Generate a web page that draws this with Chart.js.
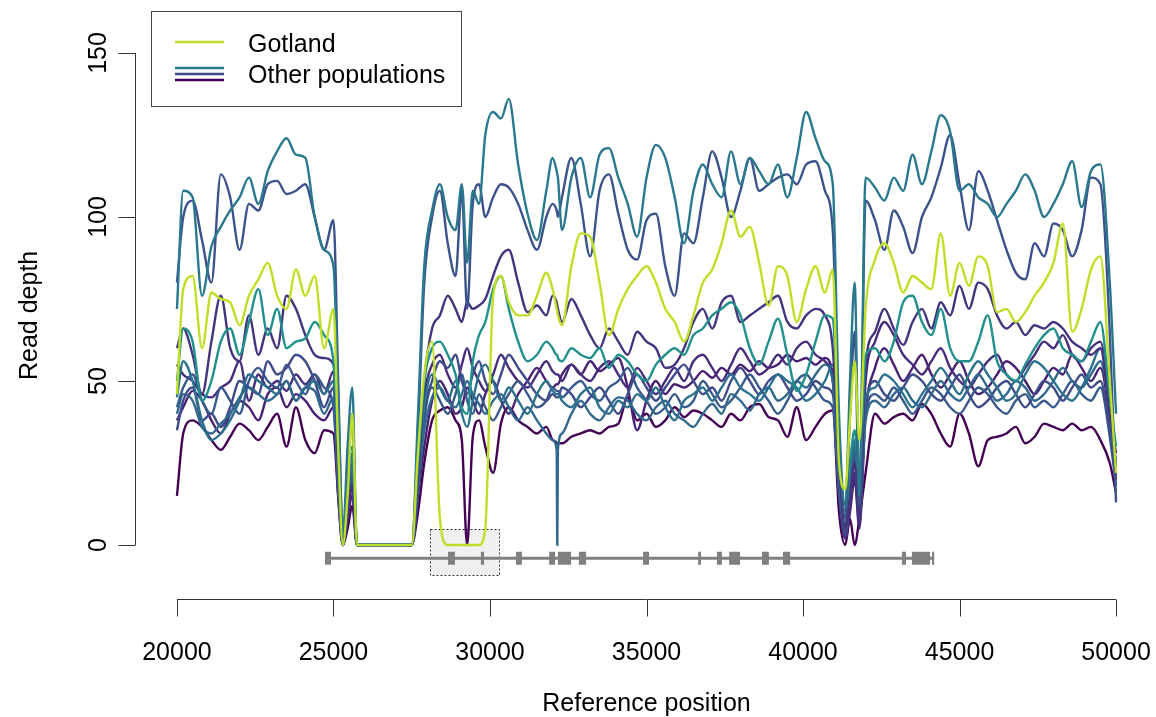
<!DOCTYPE html>
<html>
<head>
<meta charset="utf-8">
<script src="https://cdn.jsdelivr.net/npm/chart.js@4/dist/chart.umd.min.js"></script>
<style>
  html, body { margin: 0; padding: 0; background: #fff; }
  canvas { display: block; }
</style>
</head>
<body>
<canvas id="depth" width="1156" height="717"></canvas>
<script>
// Read depth along the reference — Gotland vs. the other populations, R base-graphics look.

// ── Data ──────────────────────────────────────────────────────────────────────
// rows: 20000–25150 | gap 1 | 27900–29850 | 30100–31800 | 32000–32300 | 32600–35300
//       35600–38300 | 38600–40950 | gap 2 | 42000–44700 | 45000–47700 | 48000–50000
const POS = [
  20000, 20200, 20500, 20800, 21100, 21400, 21700, 22000, 22300, 22600, 22900, 23200, 23500, 23800, 24100, 24400, 24700, 25000, 25150,
  25300, 25450, 25600, 25750, 27500, 27700,
  27900, 28150, 28400, 28650, 28900, 29100, 29270, 29450, 29650, 29850,
  30100, 30350, 30600, 30900, 31200, 31500, 31800,
  32000, 32130, 32150, 32170, 32300,
  32600, 32900, 33200, 33500, 33800, 34100, 34400, 34700, 35000, 35300,
  35600, 35900, 36200, 36500, 36800, 37100, 37400, 37700, 38000, 38300,
  38600, 38900, 39200, 39500, 39800, 40100, 40400, 40700, 40950,
  41150, 41350, 41500, 41650, 41800,
  42000, 42300, 42600, 42900, 43200, 43500, 43800, 44100, 44400, 44700,
  45000, 45300, 45600, 45900, 46200, 46500, 46800, 47100, 47400, 47700,
  48000, 48300, 48600, 48900, 49200, 49500, 49800, 50000,
];

const GOTLAND = [
  46, 78, 82, 60, 77, 75, 74, 67, 76, 81, 86, 76, 72, 84, 76, 82, 60, 72, 30,
  0, 15, 40, 0, 0, 28,
  52, 62, 8, 0, 0, 0, 0, 0, 0, 5,
  76, 82, 74, 70, 70, 76, 83,
  78, 72, 71, 70, 67,
  85, 95, 94, 80, 64, 72, 78, 82, 85, 80,
  72, 68, 62, 70, 80, 84, 92, 102, 94, 97,
  86, 73, 85, 82, 68, 78, 85, 77, 84,
  25, 17, 38, 56, 32,
  72, 87, 92, 86, 77, 82, 80, 78, 95, 76,
  86, 79, 88, 85, 71, 72, 68, 71, 76, 80,
  86, 98, 65, 72, 84, 88, 50, 22,
];

const TEAL_HIGH = [
  72, 108, 106, 76, 91, 97, 102, 106, 112, 104, 114, 120, 124, 119, 118, 100, 90, 85, 45,
  3, 30, 48, 0, 0, 40,
  85, 102, 110, 100, 96, 110, 86, 108, 104, 125,
  132, 130, 136, 116, 101, 93, 108,
  118, 114, 113, 112, 96,
  112, 118, 106, 119, 121, 112, 104, 94, 112, 122,
  118, 106, 92, 108, 116, 110, 106, 120, 110, 118,
  114, 110, 116, 106, 118, 132, 124, 117, 110,
  40, 12, 50, 80, 15,
  112, 109, 105, 112, 108, 119, 110, 120, 131, 126,
  108, 110, 106, 104, 100, 104, 108, 113, 108, 100,
  104, 110, 117, 103, 114, 116, 80, 40,
];

const BLUE_HIGH = [
  80, 100, 105, 93, 80, 113, 106, 90, 104, 102, 110, 111, 107, 108, 110, 100, 90, 99, 50,
  2, 20, 40, 0, 0, 35,
  80, 100, 108, 92, 82, 108, 72, 104, 110, 100,
  106, 110, 109, 104, 96, 90, 100,
  104, 102, 101, 100, 106,
  118, 104, 88, 108, 113, 101, 90, 87, 99, 101,
  85, 76, 95, 92, 106, 120, 112, 100, 108, 118,
  108, 110, 112, 113, 110, 116, 117, 108, 96,
  35, 8, 40, 65, 12,
  105, 99, 90, 102, 97, 89, 100, 106, 115, 125,
  110, 96, 114, 108, 99, 90, 83, 81, 92, 88,
  98, 96, 88, 96, 112, 110, 65, 13,
];

const TEAL_MID = [
  50, 66, 62, 44, 50, 62, 66, 58, 68, 78, 64, 72, 60, 62, 63, 68, 64, 56, 30,
  0, 22, 30, 0, 0, 25,
  50, 60, 62, 58, 52, 42, 40, 56, 64, 68,
  78, 82, 72, 62, 56, 58, 62,
  60, 58, 58, 57, 56,
  60, 58, 57, 60, 54, 58, 56, 52, 50, 55,
  58, 60, 58, 64, 66, 70, 72, 74, 70, 60,
  55, 62, 69, 58, 47, 52, 62, 70, 69,
  30, 10, 25, 35, 20,
  58, 60, 56, 62, 74, 76, 68, 64, 72, 60,
  56, 56, 62, 70, 56, 52, 50, 55, 60, 64,
  66, 60, 58, 56, 62, 68, 45, 30,
];

const PURPLE_MID = [
  60, 66, 58, 46, 62, 76, 60, 56, 70, 58, 66, 60, 76, 72, 64, 58, 57, 55, 25,
  0, 10, 18, 0, 0, 20,
  50, 66, 70, 76, 72, 68, 74, 72, 73, 75,
  82, 88, 90, 80, 71, 73, 70,
  76, 74, 73, 72, 68,
  75, 70, 64, 60, 66, 62, 58, 65, 62, 60,
  54, 55, 60, 68, 72, 66, 74, 76, 68, 70,
  72, 74, 76, 68, 66, 70, 72, 70, 60,
  25, 5, 15, 25, 8,
  55, 65, 72, 66, 61, 68, 72, 66, 74, 70,
  79, 72, 80, 78, 70, 66, 68, 64, 67, 66,
  68, 66, 62, 60, 58, 60, 40, 28,
];

const PURPLE_LOW = [
  15, 34, 38, 36, 32, 29, 33, 37, 35, 32, 36, 40, 30, 42, 32, 28, 35, 34, 15,
  0, 5, 12, 0, 0, 10,
  25, 38, 41, 42, 38, 32, 0, 33, 38, 30,
  22, 37, 42, 38, 36, 34, 36,
  32, 31, 30, 31, 31,
  33, 34, 35, 34, 36, 37, 45, 38, 40, 36,
  38, 42, 39, 41, 40, 38, 36, 40, 38, 42,
  43, 39, 38, 33, 42, 32, 36, 40, 41,
  10, 0, 8, 0, 8,
  22, 40, 37, 39, 40, 38, 43, 40, 34, 30,
  40, 34, 24, 32, 33, 34, 36, 31, 33, 37,
  36, 35, 37, 35, 36, 32, 25, 16,
];

const PURPLE_B = [
  38, 42, 47, 44, 38, 34, 40, 44, 42, 38, 46, 48, 42, 46, 44, 40, 38, 42, 15,
  0, 8, 15, 0, 0, 15,
  30, 44, 50, 46, 40, 42, 48, 44, 40, 46,
  50, 44, 40, 46, 50, 54, 50,
  48, 49, 49, 49, 52,
  55, 52, 56, 53, 55, 57, 48, 35, 44, 50,
  46, 49, 48, 50, 53, 51, 54, 52, 55, 53,
  56, 54, 55, 58, 56, 57, 55, 57, 52,
  15, 2, 10, 20, 5,
  40, 54, 60, 55, 50, 54, 58, 52, 48, 52,
  56, 50, 46, 48, 52, 56, 54, 50, 46, 50,
  54, 52, 58, 54, 50, 54, 38, 20,
];

const BLUE_SPIKE = [
  40, 46, 44, 36, 34, 37, 40, 45, 48, 46, 44, 46, 50, 44, 48, 47, 40, 45, 20,
  0, 12, 25, 0, 0, 18,
  35, 45, 48, 44, 42, 46, 50, 46, 43, 40,
  44, 46, 42, 38, 42, 38, 34,
  32, 29, 0, 29, 34,
  40, 44, 40, 38, 42, 45, 44, 40, 38, 42,
  44, 40, 38, 36, 40, 43, 40, 46, 44, 41,
  46, 48, 44, 46, 50, 48, 52, 55, 50,
  20, 5, 20, 30, 10,
  38, 44, 42, 46, 48, 44, 42, 46, 50, 46,
  44, 48, 52, 48, 44, 46, 50, 48, 44, 46,
  50, 54, 50, 48, 52, 56, 40, 22,
];

const BLUE_C = [
  35, 44, 48, 38, 40, 36, 42, 50, 48, 46, 56, 52, 54, 58, 56, 50, 42, 48, 18,
  0, 10, 20, 0, 0, 16,
  40, 50, 56, 54, 58, 50, 46, 52, 56, 50,
  46, 52, 58, 54, 50, 46, 44,
  46, 45, 45, 45, 48,
  46, 42, 45, 48, 44, 40, 46, 52, 48, 44,
  48, 52, 55, 50, 46, 48, 44, 50, 54, 50,
  46, 50, 52, 48, 44, 46, 50, 48, 46,
  18, 3, 15, 28, 8,
  42, 50, 46, 44, 48, 52, 50, 46, 44, 48,
  52, 46, 42, 44, 48, 50, 46, 42, 46, 50,
  48, 44, 48, 52, 48, 50, 35, 20,
];

const TEAL_LOW = [
  45, 56, 50, 38, 32, 34, 38, 44, 52, 50, 48, 46, 50, 44, 48, 50, 46, 50, 25,
  0, 15, 28, 0, 0, 20,
  42, 52, 48, 44, 50, 40, 36, 44, 52, 55,
  50, 44, 48, 44, 40, 46, 50,
  47, 46, 46, 46, 44,
  42, 46, 48, 42, 40, 44, 42, 46, 44, 48,
  42, 38, 44, 46, 48, 44, 48, 52, 48, 46,
  44, 48, 52, 50, 48, 44, 46, 50, 55,
  22, 6, 22, 32, 12,
  45, 48, 52, 50, 46, 42, 46, 50, 54, 50,
  46, 52, 56, 52, 48, 44, 46, 52, 56, 54,
  50, 46, 44, 48, 54, 60, 42, 24,
];

const PURPLE_C = [
  55, 52, 50, 46, 45, 48, 50, 56, 44, 52, 48, 50, 47, 52, 49, 52, 46, 53, 20,
  0, 8, 18, 0, 0, 18,
  45, 55, 58, 52, 48, 55, 60, 54, 50, 47,
  52, 58, 54, 50, 48, 52, 56,
  53, 52, 52, 52, 50,
  55, 52, 50, 54, 56, 52, 48, 54, 50, 46,
  50, 54, 50, 56, 58, 54, 50, 55, 60, 56,
  52, 54, 58, 55, 60, 62, 58, 56, 50,
  20, 2, 12, 22, 6,
  50, 62, 68, 64, 58, 55, 52, 56, 60, 54,
  50, 48, 52, 56, 58, 52, 50, 54, 58, 62,
  60, 64, 58, 56, 60, 62, 42, 25,
];

const BLUE_D = [
  42, 48, 52, 44, 40, 48, 44, 40, 50, 54, 50, 48, 55, 50, 46, 52, 48, 42, 18,
  0, 10, 22, 0, 0, 16,
  38, 48, 44, 40, 46, 52, 44, 40, 46, 42,
  38, 42, 46, 50, 46, 42, 44,
  48, 47, 47, 47, 45,
  48, 50, 46, 44, 48, 50, 54, 48, 44, 40,
  42, 46, 42, 44, 50, 46, 42, 44, 48, 52,
  48, 44, 40, 44, 50, 52, 48, 44, 42,
  16, 4, 18, 26, 8,
  40, 46, 44, 48, 44, 40, 44, 48, 46, 42,
  40, 44, 48, 46, 42, 40, 44, 46, 42, 44,
  42, 46, 50, 46, 44, 48, 33, 18,
];

// gene model below the depth track
const GENE_SPAN = [24730, 44190];
const EXON_START = [24730, 28660, 29710, 30830, 31890, 32170, 32840, 34890, 36650, 37250, 37640, 38690, 39360, 43160, 43480, 44120];
const EXON_END   = [24920, 28880, 29810, 31020, 32080, 32590, 33070, 35080, 36740, 37410, 37990, 38910, 39590, 43290, 44060, 44190];
const GENE_Y = -4;

// dotted region of interest
const BOX_X = [28080, 30300];
const BOX_Y = [-9.1, 4.9];

const X_TICKS = [20000, 25000, 30000, 35000, 40000, 45000, 50000];
const Y_TICKS = [0, 50, 100, 150];

// ── Styling ───────────────────────────────────────────────────────────────────
const FONT = '25px "Liberation Sans", Arial, sans-serif';
const GOT_COL = '#BEDF26';
const OTHERS = [
  { data: TEAL_HIGH, col: '#2A788E' },
  { data: BLUE_HIGH, col: '#3B528B' },
  { data: TEAL_MID, col: '#21908C' },
  { data: PURPLE_MID, col: '#46337E' },
  { data: BLUE_SPIKE, col: '#31688E' },
  { data: TEAL_LOW, col: '#2C728E' },
  { data: BLUE_C, col: '#3E4A89' },
  { data: BLUE_D, col: '#38598C' },
  { data: PURPLE_C, col: '#472D7B' },
  { data: PURPLE_B, col: '#482173' },
  { data: PURPLE_LOW, col: '#440154' },
];

const pts = (ys) => ys.map((v, i) => ({ x: POS[i], y: v }));
[GOTLAND, ...OTHERS.map((o) => o.data)].forEach((s) => {
  if (s.length !== POS.length) console.error('length mismatch', s.length, POS.length);
});

const exonPts = [];
EXON_START.forEach((s, i) => {
  exonPts.push({ x: s, y: GENE_Y }, { x: EXON_END[i], y: GENE_Y }, { x: EXON_END[i], y: null });
});

const depthLine = { borderWidth: 2.4, cubicInterpolationMode: 'monotone' };
const datasets = [
  { label: 'Gotland', data: pts(GOTLAND), borderColor: GOT_COL, ...depthLine, order: 0 },
  ...OTHERS.map((o, i) => ({ label: 'pop' + i, data: pts(o.data), borderColor: o.col, ...depthLine, order: i + 1 })),
  { label: 'gene', data: GENE_SPAN.map((x) => ({ x, y: GENE_Y })), borderColor: '#808080', borderWidth: 3, order: 20 },
  { label: 'exons', data: exonPts, borderColor: '#808080', borderWidth: 13, borderCapStyle: 'butt', spanGaps: false, order: 19 },
];

// ── R-style frame: box, axes, legend ──────────────────────────────────────────
const rFrame = {
  id: 'rFrame',
  beforeDatasetsDraw(chart) {
    const { ctx, scales: { x, y } } = chart;
    const x0 = Math.round(x.getPixelForValue(BOX_X[0])) + 0.5;
    const x1 = Math.round(x.getPixelForValue(BOX_X[1])) + 0.5;
    const y0 = Math.round(y.getPixelForValue(BOX_Y[1])) + 0.5;
    const y1 = Math.round(y.getPixelForValue(BOX_Y[0])) + 0.5;
    ctx.save();
    ctx.fillStyle = '#F0F0F0';
    ctx.fillRect(x0, y0, x1 - x0, y1 - y0);
    ctx.setLineDash([2, 2]);
    ctx.strokeStyle = '#333';
    ctx.lineWidth = 1;
    ctx.strokeRect(x0, y0, x1 - x0, y1 - y0);
    ctx.restore();
  },
  afterDraw(chart) {
    const { ctx, chartArea: a, scales: { x, y } } = chart;
    ctx.save();
    ctx.strokeStyle = '#333';
    ctx.fillStyle = '#000';
    ctx.lineWidth = 1;
    ctx.font = FONT;

    // x axis
    const xb = Math.round(a.bottom) + 0.5;
    ctx.beginPath();
    ctx.moveTo(x.getPixelForValue(X_TICKS[0]), xb);
    ctx.lineTo(x.getPixelForValue(X_TICKS[X_TICKS.length - 1]), xb);
    X_TICKS.forEach((t) => {
      const px = Math.round(x.getPixelForValue(t)) + 0.5;
      ctx.moveTo(px, xb);
      ctx.lineTo(px, xb + 17);
    });
    ctx.stroke();
    ctx.textAlign = 'center';
    ctx.textBaseline = 'alphabetic';
    X_TICKS.forEach((t) => ctx.fillText(String(t), x.getPixelForValue(t), xb + 60));
    ctx.fillText('Reference position', (a.left + a.right) / 2, 711);

    // y axis
    const yl = Math.round(a.left) - 3.5;
    ctx.beginPath();
    ctx.moveTo(yl, y.getPixelForValue(Y_TICKS[0]));
    ctx.lineTo(yl, y.getPixelForValue(Y_TICKS[Y_TICKS.length - 1]));
    Y_TICKS.forEach((t) => {
      const py = Math.round(y.getPixelForValue(t)) + 0.5;
      ctx.moveTo(yl, py);
      ctx.lineTo(yl - 17, py);
    });
    ctx.stroke();
    Y_TICKS.forEach((t) => {
      ctx.save();
      ctx.translate(yl - 30, y.getPixelForValue(t));
      ctx.rotate(-Math.PI / 2);
      ctx.fillText(String(t), 0, 0);
      ctx.restore();
    });
    ctx.save();
    ctx.translate(37, (a.top + a.bottom) / 2);
    ctx.rotate(-Math.PI / 2);
    ctx.fillText('Read depth', 0, 0);
    ctx.restore();

    // legend
    ctx.strokeStyle = '#444';
    ctx.strokeRect(151.5, 11.5, 310, 95);
    ctx.lineWidth = 2.4;
    [[GOT_COL, 42], ['#2A788E', 68], ['#3E4A89', 74], ['#440154', 80]].forEach(([c, ly]) => {
      ctx.strokeStyle = c;
      ctx.beginPath();
      ctx.moveTo(175, ly);
      ctx.lineTo(224, ly);
      ctx.stroke();
    });
    ctx.textAlign = 'left';
    ctx.fillText('Gotland', 248, 52);
    ctx.fillText('Other populations', 248, 83);
    ctx.restore();
  },
};

// chart area = R plot region (4% padding beyond 20000–50000 and −10–150)
new Chart(document.getElementById('depth'), {
  type: 'line',
  data: { datasets },
  options: {
    responsive: false,
    animation: false,
    layout: { padding: { left: 139.4, right: 2.4, top: 32, bottom: 118.2 } },
    scales: {
      x: { type: 'linear', min: 18800, max: 51200, display: false },
      y: { type: 'linear', min: -16.4, max: 156.4, display: false },
    },
    elements: { point: { radius: 0 }, line: { tension: 0, borderJoinStyle: 'round' } },
    plugins: { legend: { display: false }, tooltip: { enabled: false } },
  },
  plugins: [rFrame],
});
</script>
</body>
</html>
